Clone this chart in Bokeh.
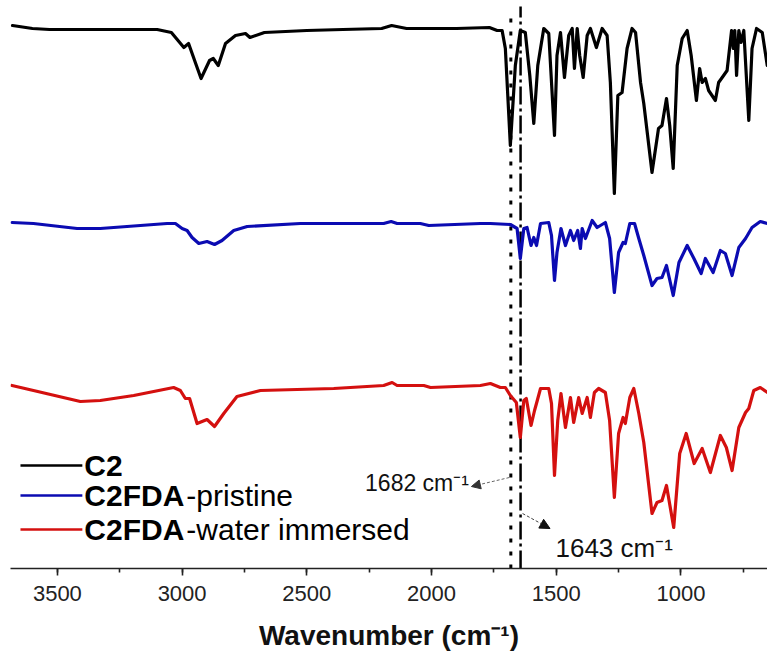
from bokeh.plotting import figure
from bokeh.models import Range1d, SingleIntervalTicker, Label, Arrow, NormalHead
from bokeh.embed import file_html
from bokeh.resources import INLINE

# ---- data: wavenumber (cm-1) and stacked transmittance (a.u.) ----
c2_wn = [3680, 3600, 3532, 3300, 3100, 3043, 2993, 2974, 2947, 2924, 2890, 2875, 2855, 2826,
         2786, 2746, 2728, 2670, 2500, 2355, 2200, 2160, 2100, 1900, 1768, 1737, 1717, 1704,
         1684, 1664, 1644, 1624, 1606, 1590, 1574, 1550, 1530, 1507, 1497, 1483, 1467, 1450,
         1436, 1427, 1416, 1406, 1392, 1376, 1363, 1339, 1316, 1296, 1283, 1267, 1253, 1236,
         1216, 1196, 1182, 1162, 1149, 1116, 1090, 1076, 1058, 1045, 1031, 1015, 995, 975,
         959, 938, 925, 915, 902, 889, 862, 849, 829, 815, 797, 790, 784, 777, 768, 759, 748,
         728, 715, 697, 674, 654]
c2_t = [543, 540, 539, 539, 539, 536, 521, 525, 506, 490, 508, 510, 503, 525,
        533, 535, 531, 536, 538, 539, 540, 543, 540, 540, 541, 538, 538, 520,
        423, 503, 538, 536, 493, 445, 503, 540, 535, 433, 513, 536, 491, 533,
        540, 500, 540, 513, 491, 533, 540, 521, 540, 533, 486, 375, 473, 476,
        520, 540, 536, 486, 465, 396, 440, 443, 470, 443, 400, 503, 530, 538,
        513, 468, 500, 486, 490, 478, 468, 486, 493, 498, 538, 520, 538, 493, 538, 526, 538,
        448, 520, 540, 536, 503]

pristine_wn = [3682, 3596, 3421, 3328, 3060, 3027, 3000, 2980, 2960, 2933, 2900, 2870, 2840,
               2793, 2739, 2526, 2192, 2162, 2138, 2045, 2011, 1804, 1764, 1684, 1657, 1644,
               1630, 1617, 1601, 1590, 1579, 1563, 1530, 1519, 1507, 1497, 1481, 1463, 1443,
               1430, 1414, 1403, 1396, 1383, 1356, 1336, 1303, 1286, 1267, 1250, 1232, 1223,
               1205, 1186, 1169, 1149, 1116, 1096, 1076, 1058, 1031, 1008, 975, 948, 919, 902,
               871, 842, 822, 795, 768, 741, 715, 682, 653]
pristine_t = [346, 345, 340, 340, 345, 345, 340, 338, 331, 325, 327, 324, 328,
              338, 342, 345, 345, 347, 345, 345, 343, 345, 345, 344, 340, 310,
              340, 341, 323, 331, 323, 345, 346, 333, 288, 316, 340, 323, 338,
              328, 338, 320, 340, 330, 348, 341, 346, 330, 276, 316, 326, 325,
              345, 345, 330, 313, 283, 290, 291, 303, 273, 306, 323, 310, 295, 310,
              296, 318, 315, 293, 321, 330, 341, 347, 345]

water_wn = [3682, 3596, 3408, 3328, 3194, 3034, 3007, 2987, 2970, 2940, 2900, 2870, 2833,
            2780, 2686, 2392, 2192, 2158, 2138, 2031, 2004, 1804, 1764, 1724, 1704, 1684,
            1660, 1644, 1630, 1620, 1601, 1587, 1576, 1563, 1530, 1519, 1507, 1494, 1481,
            1463, 1443, 1430, 1410, 1396, 1376, 1363, 1347, 1330, 1303, 1286, 1267, 1250,
            1232, 1223, 1205, 1189, 1169, 1149, 1116, 1096, 1076, 1058, 1029, 1005, 979,
            947, 915, 882, 842, 818, 795, 768, 741, 728, 708, 682, 653]
water_t = [183, 178, 167, 168, 173, 181, 178, 170, 170, 145, 149, 142, 155,
           172, 178, 180, 183, 186, 183, 183, 181, 183, 185, 181, 181, 173,
           166, 131, 168, 170, 143, 158, 168, 180, 180, 165, 93, 148, 175,
           141, 171, 146, 171, 155, 171, 151, 176, 180, 176, 148, 71, 135,
           151, 145, 171, 180, 155, 126, 55, 66, 68, 83, 41, 115, 135,
           105, 120, 96, 133, 121, 98, 141, 156, 160, 178, 181, 176]

series_names = ["C2", "C2FDA-pristine", "C2FDA-water immersed"]
series_bold = ["C2", "C2FDA", "C2FDA"]
series_rest = ["", "-pristine", "-water immersed"]
series_colors = ["#000000", "#0b0bb2", "#d4100f"]

marker_wn = [1682, 1643]
marker_text = ["1682 cm\u207b\u00b9", "1643 cm\u207b\u00b9"]

FONT = "Liberation Sans"

p = figure(width=767, height=662, output_backend="svg", toolbar_location=None,
           x_range=Range1d(3688, 653), y_range=Range1d(0, 568),
           min_border_left=10, min_border_right=0, min_border_top=0, min_border_bottom=94,
           y_axis_location=None, background_fill_color="white", border_fill_color="white")
p.xgrid.visible = False
p.ygrid.visible = False
p.outline_line_color = None

ax = p.xaxis[0]
ax.ticker = SingleIntervalTicker(interval=500, num_minor_ticks=2)
ax.axis_line_width = 1.6
ax.axis_line_color = "#222222"
ax.major_tick_line_width = 1.6
ax.major_tick_line_color = "#222222"
ax.minor_tick_line_width = 1.6
ax.minor_tick_line_color = "#222222"
ax.major_tick_in = 0
ax.major_tick_out = 7
ax.minor_tick_in = 0
ax.minor_tick_out = 4
ax.major_label_text_font = FONT
ax.major_label_text_font_size = "22px"
ax.major_label_text_color = "#222222"
ax.major_label_standoff = 10
ax.axis_label = "Wavenumber (cm\u207b\u00b9)"
ax.axis_label_text_font = FONT
ax.axis_label_text_font_size = "28px"
ax.axis_label_text_font_style = "bold"
ax.axis_label_text_color = "#111111"
ax.axis_label_standoff = 16

# marker lines
p.segment(x0=[marker_wn[0]], x1=[marker_wn[0]], y0=[0], y1=[558], line_color="black",
          line_width=3, line_dash="4 9")
p.segment(x0=[marker_wn[1]], x1=[marker_wn[1]], y0=[0], y1=[562], line_color="black",
          line_width=2.5, line_dash="18 4 3 4")

# spectra
for wn, t, col in [(c2_wn, c2_t, series_colors[0]),
                   (pristine_wn, pristine_t, series_colors[1]),
                   (water_wn, water_t, series_colors[2])]:
    p.line(wn, t, line_color=col, line_width=3.2, line_join="round", line_cap="round")

# annotations
p.add_layout(Arrow(end=NormalHead(size=9, fill_color="#333333", line_color="#333333"),
                   x_start=1688, y_start=91, x_end=1840, y_end=82,
                   line_color="#666666", line_width=1, line_dash="3 2"))
p.add_layout(Label(x=1850, y=86, text=marker_text[0], text_align="right",
                   text_baseline="middle", text_font=FONT, text_font_size="23px",
                   text_color="#111111"))
p.add_layout(Arrow(end=NormalHead(size=10, fill_color="#111111", line_color="#111111"),
                   x_start=1635, y_start=55, x_end=1525, y_end=40,
                   line_color="#444444", line_width=1, line_dash="3 2"))
p.add_layout(Label(x=1503, y=21, text=marker_text[1], text_align="left",
                   text_baseline="middle", text_font=FONT, text_font_size="26px",
                   text_color="#111111"))

# manual legend
leg_y = [103, 73, 39]
p.segment(x0=[3648] * 3, x1=[3400] * 3, y0=leg_y, y1=leg_y,
          line_color=series_colors, line_width=2.6)
bold_w = [0, 102, 102]
for i in range(3):
    p.add_layout(Label(x=3392, y=leg_y[i], text=series_bold[i], text_align="left",
                       text_baseline="middle", text_font=FONT, text_font_size="30px",
                       text_font_style="bold", text_color="black"))
    if series_rest[i]:
        p.add_layout(Label(x=3392, y=leg_y[i], x_offset=bold_w[i], text=series_rest[i],
                           text_align="left", text_baseline="middle", text_font=FONT,
                           text_font_size="30px", text_color="black"))

open("out.html", "w").write(file_html(p, INLINE))
